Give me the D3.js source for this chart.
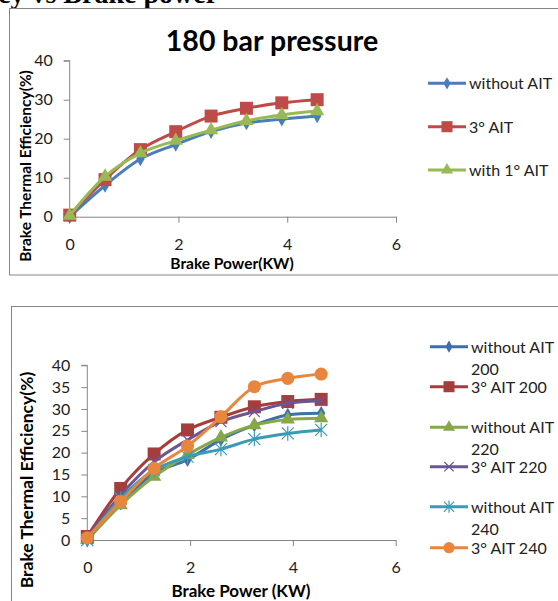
<!DOCTYPE html>
<html>
<head>
<meta charset="utf-8">
<script src="https://cdn.jsdelivr.net/npm/d3@7"></script>
<style>
  body { margin: 0; background: #fff; }
  svg { display: block; }
</style>
</head>
<body>
<svg id="chart" width="558" height="601"></svg>
<script>
// brake power (KW), same for every series
var brakePower = [0, 0.65, 1.3, 1.95, 2.6, 3.25, 3.9, 4.55];

// 180 bar pressure
var names180 = ["without AIT", "3° AIT", "with 1° AIT"];
var eff180WithoutAIT = [0, 8, 14.8, 18.5, 21.8, 24, 25, 25.8];
var eff180ThreeAIT = [0.4, 9.5, 17.2, 21.8, 25.8, 27.8, 29.2, 30];
var eff180OneAIT = [0.3, 10.3, 16.3, 19.5, 22.2, 24.6, 26.1, 27.1];

// 200 / 220 / 240 bar pressure
var namesHigh = [["without AIT", "200"], ["3° AIT 200"], ["without AIT", "220"],
                 ["3° AIT 220"], ["without AIT", "240"], ["3° AIT 240"]];
var eff200WithoutAIT = [0, 8.4, 15.3, 18.4, 23, 26.3, 28.6, 29];
var eff200ThreeAIT = [0.8, 11.8, 19.7, 25.2, 28.1, 30.5, 31.7, 32.2];
var eff220WithoutAIT = [0, 8, 14.5, 19.5, 23.5, 26.3, 27.6, 27.9];
var eff220ThreeAIT = [0.5, 10.3, 17.9, 22.9, 27.1, 29.4, 31.3, 31.9];
var eff240WithoutAIT = [0, 9.5, 16, 19.1, 20.8, 23.1, 24.4, 25.2];
var eff240ThreeAIT = [0.5, 8.8, 16.4, 21.5, 28.2, 35.1, 37, 38];

var xTicks = [0, 2, 4, 6];
var yTicksTop = [0, 10, 20, 30, 40];
var yTicksBottom = [0, 5, 10, 15, 20, 25, 30, 35, 40];

var svg = d3.select("#chart");
var font = "Lato, 'Open Sans', sans-serif";
var gray = "#868686";

// heading cut off at the top of the page
svg.append("text")
    .attr("x", -2).attr("y", 3)
    .attr("font-family", "'Liberation Serif', 'Times New Roman', serif")
    .attr("font-weight", "bold")
    .attr("font-size", 28)
    .text("cy vs Brake power");

// chart frames
svg.append("rect").attr("x", 9.5).attr("y", 8.5).attr("width", 560).attr("height", 266.5)
    .attr("fill", "white").attr("stroke", gray);
svg.append("rect").attr("x", 11.5).attr("y", 306.5).attr("width", 560).attr("height", 300)
    .attr("fill", "none").attr("stroke", gray);

function markerPath(type, size) {
  var s = {diamond: d3.symbolDiamond, square: d3.symbolSquare, triangle: d3.symbolTriangle,
           circle: d3.symbolCircle}[type];
  return d3.symbol().type(s).size(size)();
}

function drawMarker(g, type, color, cx, cy, sz) {
  if (type == "x") {
    var h = sz / 2;
    g.append("path")
        .attr("d", "M" + (cx - h) + "," + (cy - h) + "L" + (cx + h) + "," + (cy + h) +
                   "M" + (cx - h) + "," + (cy + h) + "L" + (cx + h) + "," + (cy - h))
        .attr("stroke", color).attr("stroke-width", 1.2).attr("fill", "none");
  } else if (type == "star") {
    var r = sz / 2;
    g.append("path")
        .attr("d", "M" + (cx - r) + "," + (cy - r) + "L" + (cx + r) + "," + (cy + r) +
                   "M" + (cx - r) + "," + (cy + r) + "L" + (cx + r) + "," + (cy - r) +
                   "M" + cx + "," + (cy - r * 1.2) + "L" + cx + "," + (cy + r * 1.2))
        .attr("stroke", color).attr("stroke-width", 1.2).attr("fill", "none");
  } else {
    var area = {diamond: sz * sz * 0.5, square: sz * sz, triangle: sz * sz * 0.45, circle: sz * sz * 0.8}[type];
    g.append("path")
        .attr("d", markerPath(type, area))
        .attr("transform", "translate(" + cx + "," + cy + ")")
        .attr("fill", color);
  }
}

function drawChart(opt) {
  var x = d3.scaleLinear().domain([0, 6]).range([opt.left, opt.right]);
  var y = d3.scaleLinear().domain([0, 40]).range([opt.bottom, opt.top]);

  var yAxis = svg.append("g")
      .attr("transform", "translate(" + opt.left + ",0)")
      .call(d3.axisLeft(y).tickValues(opt.yTicks).tickSize(6).tickSizeOuter(0).tickPadding(11));
  var xAxis = svg.append("g")
      .attr("transform", "translate(0," + opt.bottom + ")")
      .call(d3.axisBottom(x).tickValues(xTicks).tickFormat(d3.format("d"))
            .tickSize(6).tickSizeOuter(0).tickPadding(16));
  [yAxis, xAxis].forEach(function(a) {
    a.select(".domain").attr("stroke", gray);
    a.selectAll(".tick line").attr("stroke", gray);
    a.selectAll(".tick text").attr("font-size", 16).attr("font-family", font).attr("fill", "#222");
  });
  yAxis.select(".domain").attr("d", "M0," + (opt.bottom) + "V" + opt.top + "H-6");

  svg.append("text")
      .attr("transform", "translate(" + opt.yTitleX + "," + opt.yTitleY + ") rotate(-90)")
      .attr("text-anchor", "middle")
      .attr("font-family", font).attr("font-weight", "bold").attr("font-size", opt.yTitleSize)
      .text("Brake Thermal Efficiency(%)");
  svg.append("text")
      .attr("x", opt.xTitleX).attr("y", opt.xTitleY)
      .attr("text-anchor", "middle")
      .attr("font-family", font).attr("font-weight", "bold").attr("font-size", opt.xTitleSize)
      .text(opt.xTitle);

  var line = d3.line()
      .curve(d3.curveCatmullRom.alpha(0.5))
      .x(function(d, i) { return x(brakePower[i]); })
      .y(function(d) { return y(d); });

  var g = svg.append("g");
  opt.series.forEach(function(s) {
    g.append("path")
        .attr("d", line(s.values))
        .attr("fill", "none")
        .attr("stroke", s.color)
        .attr("stroke-width", 3)
        .attr("stroke-linejoin", "round");
    s.values.forEach(function(v, i) {
      drawMarker(g, s.marker, s.color, x(brakePower[i]), y(v), s.size);
    });
  });

  // legend
  var lg = svg.append("g");
  opt.series.forEach(function(s, i) {
    var ly = opt.legendY[i];
    lg.append("line")
        .attr("x1", opt.legendX).attr("x2", opt.legendX + 38)
        .attr("y1", ly).attr("y2", ly)
        .attr("stroke", s.color).attr("stroke-width", 3);
    drawMarker(lg, s.marker, s.color, opt.legendX + 19, ly, s.size * 0.85);
    var t = lg.append("text")
        .attr("x", opt.legendX + 41).attr("y", ly + 6)
        .attr("font-family", font).attr("font-size", 16).attr("fill", "#222");
    s.label.forEach(function(part, j) {
      t.append("tspan").attr("x", opt.legendX + 41).attr("dy", j ? 22 : 0).text(part);
    });
  });
}

// top chart
svg.append("text")
    .attr("x", 272).attr("y", 51)
    .attr("text-anchor", "middle")
    .attr("font-family", font).attr("font-weight", "bold").attr("font-size", 28.5)
    .text("180 bar pressure");

drawChart({
  left: 69.7, right: 396, top: 60.7, bottom: 216.7,
  yTicks: yTicksTop,
  yTitleX: 31, yTitleY: 166, yTitleSize: 15.5,
  xTitle: "Brake Power(KW)", xTitleX: 232, xTitleY: 269, xTitleSize: 15.5,
  legendX: 428, legendY: [83.3, 126.7, 170],
  series: [
    {label: [names180[0]], values: eff180WithoutAIT, color: "#4a7ebb", marker: "diamond", size: 11},
    {label: [names180[1]], values: eff180ThreeAIT, color: "#be4b48", marker: "square", size: 13},
    {label: [names180[2]], values: eff180OneAIT, color: "#98b954", marker: "triangle", size: 14}
  ]
});

// bottom chart
drawChart({
  left: 87.3, right: 395.7, top: 365.3, bottom: 540,
  yTicks: yTicksBottom,
  yTitleX: 33, yTitleY: 480, yTitleSize: 17.5,
  xTitle: "Brake Power (KW)", xTitleX: 241, xTitleY: 597, xTitleSize: 17,
  legendX: 430, legendY: [346.7, 386.7, 427.3, 466.7, 506.7, 547.7],
  series: [
    {label: namesHigh[0], values: eff200WithoutAIT, color: "#3d6fa8", marker: "diamond", size: 11},
    {label: namesHigh[1], values: eff200ThreeAIT, color: "#a73d3a", marker: "square", size: 13},
    {label: namesHigh[2], values: eff220WithoutAIT, color: "#86a84a", marker: "triangle", size: 14},
    {label: namesHigh[3], values: eff220ThreeAIT, color: "#6d5591", marker: "x", size: 11},
    {label: namesHigh[4], values: eff240WithoutAIT, color: "#3a9bb6", marker: "star", size: 12},
    {label: namesHigh[5], values: eff240ThreeAIT, color: "#e9863d", marker: "circle", size: 13}
  ]
});
</script>
</body>
</html>
